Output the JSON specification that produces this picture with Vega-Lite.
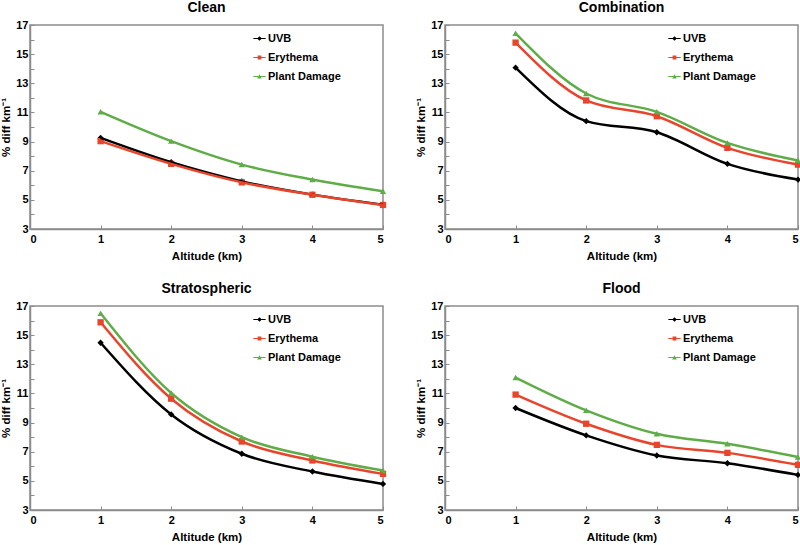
{
  "$schema": "https://vega.github.io/schema/vega-lite/v6.json",
  "padding": {"left": 0, "top": 0, "right": 2, "bottom": 0},
  "background": "white",
  "config": {
    "font": "Liberation Sans",
    "view": {"stroke": "#8c8c8c", "strokeWidth": 1.5},
    "title": {"fontSize": 14, "fontWeight": "bold", "color": "#000", "offset": 4, "frame": "group"},
    "axis": {
      "grid": false,
      "domainColor": "#8c8c8c",
      "domainWidth": 1.5,
      "tickColor": "#8c8c8c",
      "labelFont": "Liberation Sans",
      "labelFontSize": 11,
      "labelFontWeight": "bold",
      "labelColor": "#000",
      "titleFont": "Liberation Sans",
      "titleFontSize": 11.5,
      "titleFontWeight": "bold",
      "titleColor": "#000"
    },
    "legend": {
      "labelFont": "Liberation Sans",
      "labelFontSize": 11,
      "labelFontWeight": "bold",
      "labelColor": "#000",
      "rowPadding": 7,
      "labelOffset": 3,
      "symbolSize": 90,
      "symbolStrokeWidth": 0,
      "symbolOpacity": 1
    }
  },
  "data": {
    "values": [
      {"panel": "Clean", "series": "UVB", "alt": 1, "v": 9.25},
      {"panel": "Clean", "series": "UVB", "alt": 2, "v": 7.58},
      {"panel": "Clean", "series": "UVB", "alt": 3, "v": 6.27},
      {"panel": "Clean", "series": "UVB", "alt": 4, "v": 5.36},
      {"panel": "Clean", "series": "UVB", "alt": 5, "v": 4.67},
      {"panel": "Clean", "series": "Erythema", "alt": 1, "v": 9.03},
      {"panel": "Clean", "series": "Erythema", "alt": 2, "v": 7.47},
      {"panel": "Clean", "series": "Erythema", "alt": 3, "v": 6.2},
      {"panel": "Clean", "series": "Erythema", "alt": 4, "v": 5.35},
      {"panel": "Clean", "series": "Erythema", "alt": 5, "v": 4.65},
      {"panel": "Clean", "series": "Plant Damage", "alt": 1, "v": 11.04},
      {"panel": "Clean", "series": "Plant Damage", "alt": 2, "v": 9.03},
      {"panel": "Clean", "series": "Plant Damage", "alt": 3, "v": 7.42},
      {"panel": "Clean", "series": "Plant Damage", "alt": 4, "v": 6.39},
      {"panel": "Clean", "series": "Plant Damage", "alt": 5, "v": 5.59},
      {"panel": "Combination", "series": "UVB", "alt": 1, "v": 14.07},
      {"panel": "Combination", "series": "UVB", "alt": 2, "v": 10.4},
      {"panel": "Combination", "series": "UVB", "alt": 3, "v": 9.64},
      {"panel": "Combination", "series": "UVB", "alt": 4, "v": 7.47},
      {"panel": "Combination", "series": "UVB", "alt": 5, "v": 6.39},
      {"panel": "Combination", "series": "Erythema", "alt": 1, "v": 15.79},
      {"panel": "Combination", "series": "Erythema", "alt": 2, "v": 11.82},
      {"panel": "Combination", "series": "Erythema", "alt": 3, "v": 10.74},
      {"panel": "Combination", "series": "Erythema", "alt": 4, "v": 8.57},
      {"panel": "Combination", "series": "Erythema", "alt": 5, "v": 7.42},
      {"panel": "Combination", "series": "Plant Damage", "alt": 1, "v": 16.43},
      {"panel": "Combination", "series": "Plant Damage", "alt": 2, "v": 12.3},
      {"panel": "Combination", "series": "Plant Damage", "alt": 3, "v": 11.04},
      {"panel": "Combination", "series": "Plant Damage", "alt": 4, "v": 8.91},
      {"panel": "Combination", "series": "Plant Damage", "alt": 5, "v": 7.7},
      {"panel": "Stratospheric", "series": "UVB", "alt": 1, "v": 14.48},
      {"panel": "Stratospheric", "series": "UVB", "alt": 2, "v": 9.56},
      {"panel": "Stratospheric", "series": "UVB", "alt": 3, "v": 6.86},
      {"panel": "Stratospheric", "series": "UVB", "alt": 4, "v": 5.64},
      {"panel": "Stratospheric", "series": "UVB", "alt": 5, "v": 4.79},
      {"panel": "Stratospheric", "series": "Erythema", "alt": 1, "v": 15.88},
      {"panel": "Stratospheric", "series": "Erythema", "alt": 2, "v": 10.64},
      {"panel": "Stratospheric", "series": "Erythema", "alt": 3, "v": 7.7},
      {"panel": "Stratospheric", "series": "Erythema", "alt": 4, "v": 6.4},
      {"panel": "Stratospheric", "series": "Erythema", "alt": 5, "v": 5.48},
      {"panel": "Stratospheric", "series": "Plant Damage", "alt": 1, "v": 16.5},
      {"panel": "Stratospheric", "series": "Plant Damage", "alt": 2, "v": 11.03},
      {"panel": "Stratospheric", "series": "Plant Damage", "alt": 3, "v": 8.0},
      {"panel": "Stratospheric", "series": "Plant Damage", "alt": 4, "v": 6.66},
      {"panel": "Stratospheric", "series": "Plant Damage", "alt": 5, "v": 5.71},
      {"panel": "Flood", "series": "UVB", "alt": 1, "v": 10.0},
      {"panel": "Flood", "series": "UVB", "alt": 2, "v": 8.12},
      {"panel": "Flood", "series": "UVB", "alt": 3, "v": 6.74},
      {"panel": "Flood", "series": "UVB", "alt": 4, "v": 6.21},
      {"panel": "Flood", "series": "UVB", "alt": 5, "v": 5.41},
      {"panel": "Flood", "series": "Erythema", "alt": 1, "v": 10.92},
      {"panel": "Flood", "series": "Erythema", "alt": 2, "v": 8.92},
      {"panel": "Flood", "series": "Erythema", "alt": 3, "v": 7.47},
      {"panel": "Flood", "series": "Erythema", "alt": 4, "v": 6.92},
      {"panel": "Flood", "series": "Erythema", "alt": 5, "v": 6.1},
      {"panel": "Flood", "series": "Plant Damage", "alt": 1, "v": 12.09},
      {"panel": "Flood", "series": "Plant Damage", "alt": 2, "v": 9.84},
      {"panel": "Flood", "series": "Plant Damage", "alt": 3, "v": 8.23},
      {"panel": "Flood", "series": "Plant Damage", "alt": 4, "v": 7.54},
      {"panel": "Flood", "series": "Plant Damage", "alt": 5, "v": 6.63}
    ]
  },
  "columns": 2,
  "spacing": {"row": 18, "column": 26},
  "resolve": {"legend": {"color": "independent"}},
  "concat": [
    {
      "title": "Clean",
      "width": 353, "height": 204,
      "transform": [{"filter": "datum.panel == 'Clean'"}],
      "encoding": {
        "x": {"field": "alt", "type": "quantitative", "title": "Altitude (km)", "scale": {"domain": [0, 5], "nice": false}, "axis": {"values": [0, 1, 2, 3, 4, 5], "tickSize": -4, "labelPadding": 8, "titlePadding": 6}},
        "y": {"field": "v", "type": "quantitative", "title": "% diff km⁻¹", "scale": {"domain": [3, 17], "nice": false}, "axis": {"values": [3, 4, 5, 6, 7, 8, 9, 10, 11, 12, 13, 14, 15, 16, 17], "labelExpr": "datum.value % 2 == 1 ? datum.label : ''", "tickSize": -4, "labelPadding": 6, "titlePadding": 4}},
        "color": {"field": "series", "type": "nominal", "sort": ["UVB", "Erythema", "Plant Damage"], "scale": {"domain": ["UVB", "Erythema", "Plant Damage"], "range": ["#000000", "#e8452c", "#5fad48"]}, "legend": {"title": null, "orient": "none", "legendX": 224, "legendY": 8, "symbolType": {"expr": "datum.value == 'UVB' ? 'M-1.3,-0.13H1.3V0.13H-1.3Z M0,-0.5L0.5,0L0,0.5L-0.5,0Z' : datum.value == 'Erythema' ? 'M-1.3,-0.13H1.3V0.13H-1.3Z M-0.4,-0.4H0.4V0.4H-0.4Z' : 'M-1.3,-0.13H1.3V0.13H-1.3Z M0,-0.5L0.5,0.4H-0.5Z'"}}}
      },
      "layer": [
        {"mark": {"type": "point", "filled": true, "opacity": 1, "size": 40}, "encoding": {"shape": {"condition": [{"test": "datum.series == 'UVB'", "value": "diamond"}, {"test": "datum.series == 'Erythema'", "value": "square"}], "value": "triangle-up"}}},
        {"mark": {"type": "line", "interpolate": "monotone", "strokeWidth": 2.5}}
      ]
    },
    {
      "title": "Combination",
      "width": 353, "height": 204,
      "transform": [{"filter": "datum.panel == 'Combination'"}],
      "encoding": {
        "x": {"field": "alt", "type": "quantitative", "title": "Altitude (km)", "scale": {"domain": [0, 5], "nice": false}, "axis": {"values": [0, 1, 2, 3, 4, 5], "tickSize": -4, "labelPadding": 8, "titlePadding": 6}},
        "y": {"field": "v", "type": "quantitative", "title": "% diff km⁻¹", "scale": {"domain": [3, 17], "nice": false}, "axis": {"values": [3, 4, 5, 6, 7, 8, 9, 10, 11, 12, 13, 14, 15, 16, 17], "labelExpr": "datum.value % 2 == 1 ? datum.label : ''", "tickSize": -4, "labelPadding": 6, "titlePadding": 4}},
        "color": {"field": "series", "type": "nominal", "sort": ["UVB", "Erythema", "Plant Damage"], "scale": {"domain": ["UVB", "Erythema", "Plant Damage"], "range": ["#000000", "#e8452c", "#5fad48"]}, "legend": {"title": null, "orient": "none", "legendX": 224, "legendY": 8, "symbolType": {"expr": "datum.value == 'UVB' ? 'M-1.3,-0.13H1.3V0.13H-1.3Z M0,-0.5L0.5,0L0,0.5L-0.5,0Z' : datum.value == 'Erythema' ? 'M-1.3,-0.13H1.3V0.13H-1.3Z M-0.4,-0.4H0.4V0.4H-0.4Z' : 'M-1.3,-0.13H1.3V0.13H-1.3Z M0,-0.5L0.5,0.4H-0.5Z'"}}}
      },
      "layer": [
        {"mark": {"type": "point", "filled": true, "opacity": 1, "size": 40}, "encoding": {"shape": {"condition": [{"test": "datum.series == 'UVB'", "value": "diamond"}, {"test": "datum.series == 'Erythema'", "value": "square"}], "value": "triangle-up"}}},
        {"mark": {"type": "line", "interpolate": "monotone", "strokeWidth": 2.5}}
      ]
    },
    {
      "title": "Stratospheric",
      "width": 353, "height": 204,
      "transform": [{"filter": "datum.panel == 'Stratospheric'"}],
      "encoding": {
        "x": {"field": "alt", "type": "quantitative", "title": "Altitude (km)", "scale": {"domain": [0, 5], "nice": false}, "axis": {"values": [0, 1, 2, 3, 4, 5], "tickSize": -4, "labelPadding": 8, "titlePadding": 6}},
        "y": {"field": "v", "type": "quantitative", "title": "% diff km⁻¹", "scale": {"domain": [3, 17], "nice": false}, "axis": {"values": [3, 4, 5, 6, 7, 8, 9, 10, 11, 12, 13, 14, 15, 16, 17], "labelExpr": "datum.value % 2 == 1 ? datum.label : ''", "tickSize": -4, "labelPadding": 6, "titlePadding": 4}},
        "color": {"field": "series", "type": "nominal", "sort": ["UVB", "Erythema", "Plant Damage"], "scale": {"domain": ["UVB", "Erythema", "Plant Damage"], "range": ["#000000", "#e8452c", "#5fad48"]}, "legend": {"title": null, "orient": "none", "legendX": 224, "legendY": 8, "symbolType": {"expr": "datum.value == 'UVB' ? 'M-1.3,-0.13H1.3V0.13H-1.3Z M0,-0.5L0.5,0L0,0.5L-0.5,0Z' : datum.value == 'Erythema' ? 'M-1.3,-0.13H1.3V0.13H-1.3Z M-0.4,-0.4H0.4V0.4H-0.4Z' : 'M-1.3,-0.13H1.3V0.13H-1.3Z M0,-0.5L0.5,0.4H-0.5Z'"}}}
      },
      "layer": [
        {"mark": {"type": "point", "filled": true, "opacity": 1, "size": 40}, "encoding": {"shape": {"condition": [{"test": "datum.series == 'UVB'", "value": "diamond"}, {"test": "datum.series == 'Erythema'", "value": "square"}], "value": "triangle-up"}}},
        {"mark": {"type": "line", "interpolate": "monotone", "strokeWidth": 2.5}}
      ]
    },
    {
      "title": "Flood",
      "width": 353, "height": 204,
      "transform": [{"filter": "datum.panel == 'Flood'"}],
      "encoding": {
        "x": {"field": "alt", "type": "quantitative", "title": "Altitude (km)", "scale": {"domain": [0, 5], "nice": false}, "axis": {"values": [0, 1, 2, 3, 4, 5], "tickSize": -4, "labelPadding": 8, "titlePadding": 6}},
        "y": {"field": "v", "type": "quantitative", "title": "% diff km⁻¹", "scale": {"domain": [3, 17], "nice": false}, "axis": {"values": [3, 4, 5, 6, 7, 8, 9, 10, 11, 12, 13, 14, 15, 16, 17], "labelExpr": "datum.value % 2 == 1 ? datum.label : ''", "tickSize": -4, "labelPadding": 6, "titlePadding": 4}},
        "color": {"field": "series", "type": "nominal", "sort": ["UVB", "Erythema", "Plant Damage"], "scale": {"domain": ["UVB", "Erythema", "Plant Damage"], "range": ["#000000", "#e8452c", "#5fad48"]}, "legend": {"title": null, "orient": "none", "legendX": 224, "legendY": 8, "symbolType": {"expr": "datum.value == 'UVB' ? 'M-1.3,-0.13H1.3V0.13H-1.3Z M0,-0.5L0.5,0L0,0.5L-0.5,0Z' : datum.value == 'Erythema' ? 'M-1.3,-0.13H1.3V0.13H-1.3Z M-0.4,-0.4H0.4V0.4H-0.4Z' : 'M-1.3,-0.13H1.3V0.13H-1.3Z M0,-0.5L0.5,0.4H-0.5Z'"}}}
      },
      "layer": [
        {"mark": {"type": "point", "filled": true, "opacity": 1, "size": 40}, "encoding": {"shape": {"condition": [{"test": "datum.series == 'UVB'", "value": "diamond"}, {"test": "datum.series == 'Erythema'", "value": "square"}], "value": "triangle-up"}}},
        {"mark": {"type": "line", "interpolate": "monotone", "strokeWidth": 2.5}}
      ]
    }
  ]
}
